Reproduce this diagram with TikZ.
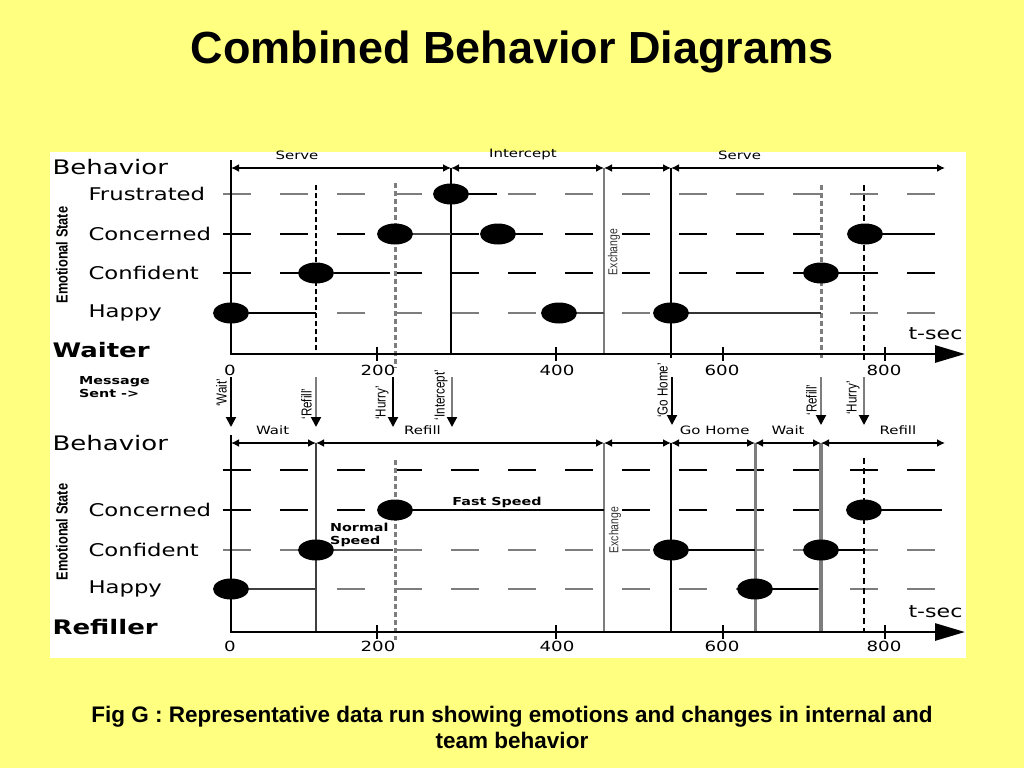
\documentclass[tikz,border=0pt]{standalone}
\usepackage{fontspec}
\setmainfont{Liberation Sans}
\newfontfamily\widefont[FakeStretch=1.3]{DejaVu Sans}
\newfontfamily\narrowfont[FakeStretch=0.8]{Liberation Sans}
\usetikzlibrary{arrows.meta}
\usetikzlibrary{positioning}
\usetikzlibrary{shapes.geometric}
\definecolor{slideyellow}{RGB}{255,255,128}
\definecolor{midgray}{RGB}{125,125,125}
\newcommand{\fsz}[2]{\fontsize{#1}{#2}\selectfont}

\begin{document}
\begin{tikzpicture}[x=1pt, y=-1pt,
      mood/.style ={ellipse, fill=black, minimum width=36pt, minimum height=21pt, inner sep=0pt},
      stateline/.style ={line width=2.6pt},
      gridline/.style ={line width=1.2pt, dash pattern=on 28pt off 29pt},
      behave/.style ={line width=1.6pt, {Latex[length=8pt,width=8pt]}-{Latex[length=8pt,width=8pt]}},
      axisline/.style ={line width=2.8pt, -{Triangle[length=30pt,width=17pt]}},
      tickmark/.style ={line width=1.6pt},
      msg/.style ={line width=2pt, -{Triangle[length=10pt,width=10pt,color=black]}},
      rowlabel/.style ={anchor=west, font=\widefont\fsz{17.5}{20}},
      seglabel/.style ={font=\widefont\fsz{11.5}{13}, above=4pt},
      ticklabel/.style ={font=\widefont\fsz{14}{16}},
      msglabel/.style ={rotate=90, anchor=south, text=black, font=\narrowfont\fsz{14.5}{16}},
      sidelabel/.style ={rotate=90, font=\narrowfont\bfseries\fsz{16}{18}},
      exlabel/.style ={rotate=90, font=\narrowfont\fsz{13}{15}, text=black!80},
      note/.style ={font=\widefont\bfseries\fsz{11}{12.5}, align=left, inner sep=0pt}
    ]
    \fill[slideyellow] (0,0) rectangle (1024,768);
    \useasboundingbox (0,0) rectangle (1024,768);
    \fill[white] (50,152) rectangle (966,658);

    \node[font=\bfseries\fsz{45}{50}] (title) at (512,52) {Combined Behavior Diagrams};

    % ---- waiter ----
    \draw[gridline, midgray] (223,194) -- (935,194);
    \draw[gridline] (223,234) -- (935,234);
    \draw[gridline] (223,273) -- (935,273);
    \draw[gridline, midgray] (223,313) -- (935,313);

    \draw[line width=2pt, dash pattern=on 5pt off 3pt] (316,185) -- (316,354);
    \draw[midgray, line width=3pt, dash pattern=on 5pt off 3pt] (395,183) -- (395,368);
    \draw[line width=1.8pt] (451,168) -- (451,354);
    \draw[midgray, line width=2pt] (604,168) -- (604,354);
    \draw[line width=2.6pt] (671,168) -- (671,358);
    \draw[midgray, line width=3pt, dash pattern=on 5pt off 3pt] (821,185) -- (821,360);
    \draw[line width=2.6pt, dash pattern=on 6pt off 4pt] (864,185) -- (864,360);

    \coordinate (wb0) at (231,168);
    \coordinate (wb1) at (451,168);
    \coordinate (wb2) at (604,168);
    \coordinate (wb3) at (671,168);
    \coordinate (wb4) at (945,168);
    \draw[behave] (wb0) -- node[seglabel, pos=.3] (wServe1) {Serve} (wb1);
    \draw[behave] (wb1) -- node[seglabel, pos=.47] (wIntercept) {Intercept} (wb2);
    \draw[behave] (wb2) -- (wb3);
    \draw[behave] (wb3) -- node[seglabel, pos=.25] (wServe2) {Serve} (wb4);

    \draw[axisline] (231,160) -- (231,354) -- (965,354);
    \foreach \x in {377,556,723,885}
      \draw[tickmark] (\x,347) -- (\x,361);
    \node[ticklabel] (wt0) at (230,370) {0};
    \node[ticklabel] (wt200) at (378,370) {200};
    \node[ticklabel] (wt400) at (557,370) {400};
    \node[ticklabel] (wt600) at (722,370) {600};
    \node[ticklabel] (wt800) at (884,370) {800};

    \node[mood] (w1) at (231,313) {};
    \node[mood] (w2) at (316,273) {};
    \node[mood] (w3) at (395,234) {};
    \node[mood] (w4) at (451,194) {};
    \node[mood] (w5) at (498,234) {};
    \node[mood] (w6) at (559,313) {};
    \node[mood] (w7) at (671,313) {};
    \node[mood] (w8) at (821,273) {};
    \node[mood] (w9) at (865,234) {};
    \coordinate (w1e) at (316,313);
    \coordinate (w2e) at (390,273);
    \coordinate (w3e) at (451,234);
    \coordinate (w4e) at (497,194);
    \coordinate (w5e) at (543,234);
    \coordinate (w6e) at (604,313);
    \coordinate (w7e) at (821,313);
    \coordinate (w8e) at (860,273);
    \coordinate (w9e) at (935,234);
    \draw[stateline] (w1) -- (w1e);
    \draw[stateline] (w2) -- (w2e);
    \draw[stateline, black!70] (w3) -- (w3e);
    \draw[stateline] (w4) -- (w4e);
    \draw[stateline] (w5) -- (w5e);
    \draw[stateline, black!70] (w6) -- (w6e);
    \draw[stateline, black!80] (w7) -- (w7e);
    \draw[stateline] (w8) -- (w8e);
    \draw[stateline] (w9) -- (w9e);

    \node[anchor=west, font=\widefont\fsz{20}{22}] (wBehavior) at (49,167) {Behavior};
    \node[rowlabel] (wFrustrated) at (85,194) {Frustrated};
    \node[rowlabel] (wConcerned) at (85,234) {Concerned};
    \node[rowlabel] (wConfident) at (85,273) {Confident};
    \node[rowlabel] (wHappy) at (85,313) {Happy};
    \node[sidelabel] (wEmotion) at (62,255) {Emotional State};
    \node[anchor=west, font=\widefont\bfseries\fsz{20}{22}] (waiter) at (49,350) {Waiter};
    \node[anchor=east, font=\widefont\fsz{17}{19}] (wSec) at (966,334) {t-sec};
    \node[exlabel] (wExchange) at (614,252) {Exchange};

    % ---- messages ----
    \node[note, anchor=west] (sent) at (79,387) {Message\\Sent ->};
    \coordinate (m1) at (231,377); \coordinate (m1e) at (231,427);
    \coordinate (m2) at (316,377); \coordinate (m2e) at (316,427);
    \coordinate (m3) at (393,377); \coordinate (m3e) at (393,427);
    \coordinate (m4) at (452,377); \coordinate (m4e) at (452,427);
    \coordinate (m5) at (672,377); \coordinate (m5e) at (672,425);
    \coordinate (m6) at (821,377); \coordinate (m6e) at (821,425);
    \coordinate (m7) at (864,377); \coordinate (m7e) at (864,425);
    \draw[msg] (m1) -- node[msglabel, pos=.32] (lWait) {‘Wait’} (m1e);
    \draw[msg, midgray] (m2) -- node[msglabel, pos=.54] (lRefill) {‘Refill’} (m2e);
    \draw[msg] (m3) -- node[msglabel, pos=.52] (lHurry) {‘Hurry’} (m3e);
    \draw[msg, midgray] (m4) -- node[msglabel, pos=.36] (lIntercept) {‘Intercept’} (m4e);
    \draw[msg] (m5) -- node[msglabel, pos=.28] (lGoHome) {‘Go Home’} (m5e);
    \draw[msg, midgray] (m6) -- node[msglabel, pos=.48] (lRefill2) {‘Refill’} (m6e);
    \draw[msg, midgray] (m7) -- node[msglabel, pos=.44] (lHurry2) {‘Hurry’} (m7e);

    % ---- refiller ----
    \draw[gridline] (223,470) -- (935,470);
    \draw[gridline] (223,510) -- (935,510);
    \draw[gridline, midgray] (223,550) -- (935,550);
    \draw[gridline, midgray] (223,589) -- (935,589);

    \draw[black!75, line width=2pt] (316,443) -- (316,632);
    \draw[midgray, line width=3pt, dash pattern=on 5pt off 3pt] (395,460) -- (395,640);
    \draw[midgray, line width=2pt] (604,443) -- (604,632);
    \draw[line width=2.6pt] (671,443) -- (671,632);
    \draw[midgray, line width=3pt] (755,443) -- (755,632);
    \draw[midgray, line width=3.2pt] (821,443) -- (821,632);
    \draw[line width=2.6pt, dash pattern=on 6pt off 4pt] (864,458) -- (864,632);

    \coordinate (rb0) at (231,443);
    \coordinate (rb1) at (316,443);
    \coordinate (rb2) at (604,443);
    \coordinate (rb3) at (671,443);
    \coordinate (rb4) at (755,443);
    \coordinate (rb5) at (821,443);
    \coordinate (rb6) at (945,443);
    \draw[behave] (rb0) -- node[seglabel, pos=.49] (rWait1) {Wait} (rb1);
    \draw[behave] (rb1) -- node[seglabel, pos=.37] (rRefill1) {Refill} (rb2);
    \draw[behave] (rb2) -- (rb3);
    \draw[behave] (rb3) -- node[seglabel, pos=.52] (rGoHome) {Go Home} (rb4);
    \draw[behave] (rb4) -- node[seglabel, pos=.5] (rWait2) {Wait} (rb5);
    \draw[behave] (rb5) -- node[seglabel, pos=.62] (rRefill2) {Refill} (rb6);

    \draw[axisline] (231,435) -- (231,632) -- (965,632);
    \foreach \x in {377,556,723,885}
      \draw[tickmark] (\x,625) -- (\x,639);
    \node[ticklabel] (rt0) at (230,646) {0};
    \node[ticklabel] (rt200) at (378,646) {200};
    \node[ticklabel] (rt400) at (557,646) {400};
    \node[ticklabel] (rt600) at (722,646) {600};
    \node[ticklabel] (rt800) at (884,646) {800};

    \node[mood] (r1) at (231,589) {};
    \node[mood] (r2) at (316,550) {};
    \node[mood] (r3) at (395,510) {};
    \node[mood] (r4) at (671,550) {};
    \node[mood] (r5) at (755,589) {};
    \node[mood] (r6) at (821,550) {};
    \node[mood] (r7) at (864,510) {};
    \coordinate (r1e) at (316,589);
    \coordinate (r2e) at (393,550);
    \coordinate (r3e) at (604,510);
    \coordinate (r4e) at (755,550);
    \coordinate (r5e) at (818,589);
    \coordinate (r6e) at (864,550);
    \coordinate (r7e) at (942,510);
    \draw[stateline, black!75] (r1) -- (r1e);
    \draw[stateline, black!70] (r2) -- (r2e);
    \draw[stateline] (r3) -- (r3e);
    \draw[stateline] (r4) -- (r4e);
    \draw[stateline] (r5) -- (r5e);
    \draw[stateline] (r6) -- (r6e);
    \draw[stateline] (r7) -- (r7e);

    \node[note] (fast) at (497,502) {Fast Speed};
    \node[note, anchor=west] (normal) at (330,535) {Normal\\Speed};

    \node[anchor=west, font=\widefont\fsz{20}{22}] (rBehavior) at (49,443) {Behavior};
    \node[rowlabel] (rConcerned) at (85,510) {Concerned};
    \node[rowlabel] (rConfident) at (85,550) {Confident};
    \node[rowlabel] (rHappy) at (85,589) {Happy};
    \node[sidelabel] (rEmotion) at (62,532) {Emotional State};
    \node[anchor=west, font=\widefont\bfseries\fsz{20}{22}] (refiller) at (49,627) {Refiller};
    \node[anchor=east, font=\widefont\fsz{17}{19}] (rSec) at (966,612) {t-sec};
    \node[exlabel] (rExchange) at (615,530) {Exchange};

    \node[font=\bfseries\fsz{22.5}{26}, align=center] (caption) at (512,727)
      {Fig G : Representative data run showing emotions and changes in internal and\\team behavior};
  \end{tikzpicture}
\end{document}
